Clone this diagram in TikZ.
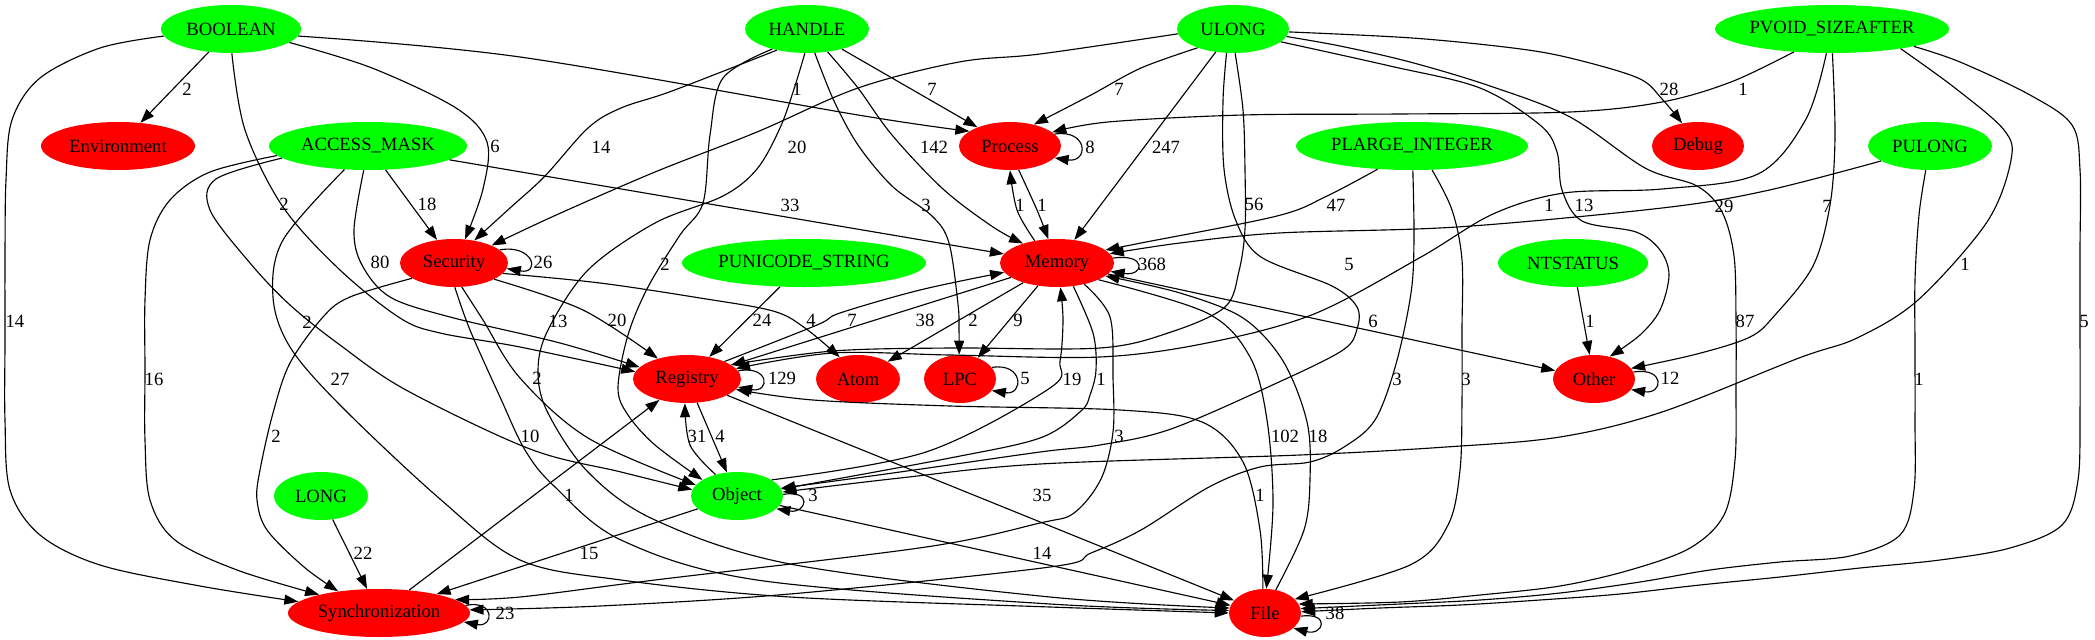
\documentclass[tikz,border=0pt]{standalone}
\usepackage{fontspec}
\setmainfont{Liberation Serif}
\usetikzlibrary{shapes.geometric,arrows.meta}
\definecolor{gvgreen}{RGB}{0,255,0}
\definecolor{gvred}{RGB}{255,0,0}
\begin{document}
\begin{tikzpicture}[x=0.75pt,y=-0.75pt,
  nd/.style={ellipse, draw=none, inner sep=0pt, minimum height=36pt, minimum width=#1*1.5pt, font=\rmfamily\fontsize{14pt}{16pt}\selectfont},
  gn/.style={nd=#1, fill=gvgreen},
  rd/.style={nd=#1, fill=gvred},
  edg/.style={line width=0.85pt, -{Triangle[length=10.5pt,width=7.5pt]}},
  lbl/.style={inner sep=0pt, font=\rmfamily\fontsize{14pt}{16pt}\selectfont},
  sm/.style={smooth, tension=0.55}]
\fill[white] (0,0) rectangle (2095,639);
\useasboundingbox (0,0) rectangle (2095,639);
% nodes
\node[gn=70] (BOOLEAN) at (231,29) {BOOLEAN};
\node[gn=62] (HANDLE) at (807,29) {HANDLE};
\node[gn=56] (ULONG) at (1233,29) {ULONG};
\node[gn=117] (PVOID) at (1832,29) {PVOID\_SIZEAFTER};
\node[rd=77] (Environment) at (118,146) {Environment};
\node[gn=99] (AM) at (368,146) {ACCESS\_MASK};
\node[rd=51] (Process) at (1010,146) {Process};
\node[gn=116] (PLARGE) at (1412,146) {PLARGE\_INTEGER};
\node[rd=46] (Debug) at (1698,146) {Debug};
\node[gn=62] (PULONG) at (1930,146) {PULONG};
\node[rd=54] (Security) at (454,263) {Security};
\node[gn=122] (PUNICODE) at (804,263) {PUNICODE\_STRING};
\node[rd=57] (Memory) at (1057,263) {Memory};
\node[gn=75] (NTSTATUS) at (1573,263) {NTSTATUS};
\node[rd=54] (Registry) at (687,379) {Registry};
\node[rd=42] (Atom) at (858,379) {Atom};
\node[rd=36] (LPC) at (960,379) {LPC};
\node[rd=41] (Other) at (1594,379) {Other};
\node[gn=47] (LONG) at (321,496) {LONG};
\node[gn=46] (Object) at (737,496) {Object};
\node[rd=91] (Sync) at (379,613) {Synchronization};
\node[rd=36] (File) at (1265,613) {File};
% BOOLEAN
\draw[edg] (BOOLEAN) -- (Environment);
\draw[edg] plot[sm] coordinates {(BOOLEAN.-6) (520,57) (858,115) (Process.160)};
\draw[edg] plot[sm] coordinates {(BOOLEAN.-13) (372,68) (456,108) (487,142) (483,189) (Security.65)};
\draw[edg] plot[sm] coordinates {(BOOLEAN.-88) (245,130) (283,207) (340,270) (400,318) (440,333) (520,347) (Registry.172)};
\draw[edg] plot[sm] coordinates {(BOOLEAN.186) (100,48) (40,78) (12,120) (6,180) (5,260) (5,340) (5,420) (10,490) (40,535) (100,565) (200,586) (Sync.172)};
% HANDLE
\draw[edg] (HANDLE) -- (Process);
\draw[edg] plot[sm] coordinates {(HANDLE.215) (672,91) (621,108) (588,128) (545,176) (510,208) (Security.48)};
\draw[edg] plot[sm] coordinates {(HANDLE.-48) (858,88) (892,135) (943,189) (993,227) (Memory.150)};
\draw[edg] plot[sm] coordinates {(HANDLE.-72) (834,101) (858,145) (892,186) (932,216) (949,243) (958,304) (959,330) (LPC.92)};
\draw[edg] plot[sm] coordinates {(HANDLE.210) (723,78) (710,135) (703,203) (680,235) (648,287) (628,335) (618,388) (628,415) (655,445) (Object.155)};
\draw[edg] plot[sm] coordinates {(HANDLE.-95) (794,89) (780,128) (757,169) (723,196) (655,223) (588,270) (548,330) (538,370) (547,411) (588,472) (655,520) (790,564) (1050,597) (File.172)};
% ULONG
\draw[edg] plot[sm] coordinates {(ULONG.208) (1141,68) (1091,95) (Process.42)};
\draw[edg] plot[sm] coordinates {(ULONG.-3) (1412,38) (1513,48) (1570,58) (1638,78) (1662,99) (Debug.125)};
\draw[edg] plot[sm] coordinates {(ULONG.185) (1040,54) (959,62) (858,88) (757,132) (655,172) (554,216) (Security.25)};
\draw[edg] (ULONG) -- (Memory);
\draw[edg] plot[sm] coordinates {(ULONG.-85) (1243,110) (1245,170) (1245,229) (1239,271) (1225,307) (1171,332) (1100,348) (950,348) (833,351) (Registry.18)};
\draw[edg] plot[sm] coordinates {(ULONG.-105) (1223,101) (1224,169) (1236,221) (1261,257) (1332,286) (1357,307) (1357,329) (1343,350) (1279,382) (1171,429) (1100,445) (1040,452) (900,472) (Object.10)};
\draw[edg] plot[sm] coordinates {(ULONG.-15) (1390,66) (1480,88) (1540,125) (1557,152) (1562,190) (1582,221) (1636,232) (1660,250) (1669,275) (1660,310) (1640,335) (Other.55)};
\draw[edg] plot[sm] coordinates {(ULONG.-8) (1340,46) (1410,62) (1490,86) (1570,117) (1645,168) (1697,186) (1722,212) (1734,256) (1736,320) (1736,390) (1735,460) (1724,515) (1690,548) (1630,570) (1560,586) (1480,595) (1400,602) (File.15)};
% PVOID_SIZEAFTER
\draw[edg] plot[sm] coordinates {(PVOID.211) (1731,82) (1662,102) (1570,112) (1400,114) (1243,115) (1108,122) (Process.18)};
\draw[edg] plot[sm] coordinates {(PVOID.-103) (1806,119) (1758,174) (1662,189) (1564,193) (1493,214) (1421,257) (1314,314) (1207,343) (1100,357) (950,355) (833,353) (Registry.12)};
\draw[edg] plot[sm] coordinates {(PVOID.-89) (1835,137) (1830,205) (1813,266) (1775,315) (1750,337) (1697,354) (Other.16)};
\draw[edg] plot[sm] coordinates {(PVOID.-16) (1955,88) (2004,130) (2011,160) (1987,222) (1918,300) (1857,338) (1799,358) (1662,412) (1560,437) (1446,447) (1300,455) (1040,464) (900,478) (Object.5)};
\draw[edg] plot[sm] coordinates {(PVOID.-12) (1960,62) (2030,95) (2072,125) (2080,170) (2080,250) (2080,330) (2080,410) (2078,480) (2062,525) (2010,548) (1940,560) (1860,568) (1780,577) (1700,585) (1620,594) (1540,600) (1460,605) (1380,608) (File.2)};
% PULONG
\draw[edg] plot[sm] coordinates {(PULONG.197) (1765,191) (1662,208) (1457,227) (1279,233) (1180,243) (Memory.10)};
\draw[edg] plot[sm] coordinates {(PULONG.-100) (1919,215) (1915,280) (1915,350) (1915,420) (1914,490) (1900,535) (1850,556) (1780,562) (1710,570) (1640,582) (1560,593) (1480,600) (1400,604) (File.7)};
% PLARGE_INTEGER
\draw[edg] plot[sm] coordinates {(PLARGE.214) (1327,196) (1277,216) (1141,243) (Memory.15)};
\draw[edg] plot[sm] coordinates {(PLARGE.-88) (1414,239) (1411,293) (1396,364) (1375,420) (1344,447) (1310,462) (1260,467) (1209,487) (1141,530) (1091,553) (1050,567) (790,594) (600,606) (Sync.2)};
\draw[edg] plot[sm] coordinates {(PLARGE.-50) (1452,210) (1462,260) (1462,330) (1462,400) (1460,470) (1448,525) (1410,565) (File.25)};
% single straight ones
\draw[edg] (NTSTATUS) -- (Other);
\draw[edg] (PUNICODE) -- (Registry);
\draw[edg] (LONG) -- (Sync);
% ACCESS_MASK
\draw[edg] (AM) -- (Security);
\draw[edg] (AM) -- (Memory);
\draw[edg] plot[sm] coordinates {(AM.-100) (354,230) (362,265) (390,297) (450,317) (560,343) (Registry.166)};
\draw[edg] plot[sm] coordinates {(AM.188) (216,179) (210,210) (250,263) (290,305) (340,345) (406,390) (530,449) (621,472) (Object.172)};
\draw[edg] plot[sm] coordinates {(AM.186) (210,172) (170,200) (150,240) (145,300) (145,370) (145,440) (150,500) (175,540) (237,570) (Sync.163)};
\draw[edg] plot[sm] coordinates {(AM.-135) (283,240) (273,297) (290,347) (340,405) (440,499) (520,560) (621,580) (790,597) (1050,607) (File.180)};
% Security
\draw[edg] (Security.16) .. controls +(34,-6) and +(34,6) .. (Security.-6);
\draw[edg] plot[sm] coordinates {(Security.-22) (583,310) (Registry.145)};
\draw[edg] plot[sm] coordinates {(Security.-12) (600,283) (700,298) (773,311) (805,328) (Atom.130)};
\draw[edg] plot[sm] coordinates {(Security.-72) (483,320) (520,378) (588,438) (Object.165)};
\draw[edg] plot[sm] coordinates {(Security.200) (350,297) (323,317) (290,363) (273,413) (260,470) (257,500) (267,530) (304,567) (Sync.152)};
\draw[edg] plot[sm] coordinates {(Security.-88) (470,330) (500,397) (525,450) (554,486) (621,540) (757,580) (1050,604) (File.176)};
% Process
\draw[edg] (Process.15) .. controls +(34,-5) and +(34,5) .. (Process.-15);
\draw[edg] plot[sm] coordinates {(Memory.135) (1017,210) (Process.-90)};
\draw[edg] plot[sm] coordinates {(Process.-70) (1037,210) (Memory.110)};
% Memory
\draw[edg] (Memory.5) .. controls +(34,-5) and +(34,5) .. (Memory.-9);
\draw[edg] (Memory) -- (Registry);
\draw[edg] plot[sm] coordinates {(Registry.25) (817,325) (840,313) (920,290) (Memory.190)};
\draw[edg] (Memory) -- (Atom);
\draw[edg] (Memory) -- (LPC);
\draw[edg] (Memory) -- (Other);
\draw[edg] plot[sm] coordinates {(Memory.-55) (1093,333) (1096,370) (1090,395) (1081,411) (1040,438) (950,458) (Object.9)};
\draw[edg] plot[sm] coordinates {(Object.25) (926,452) (1050,388) (1060,361) (1063,320) (Memory.-82)};
\draw[edg] plot[sm] coordinates {(Memory.-38) (1110,317) (1113,378) (1113,432) (1101,479) (1074,513) (1040,523) (926,547) (655,580) (520,597) (Sync.10)};
\draw[edg] plot[sm] coordinates {(Memory.-22) (1207,313) (1250,357) (1267,420) (1273,504) (File.87)};
\draw[edg] plot[sm] coordinates {(File.65) (1304,530) (1310,479) (1307,422) (1283,361) (1243,318) (1180,293) (Memory.-15)};
% Registry
\draw[edg] (Registry.9) .. controls +(32,-6) and +(32,6) .. (Registry.-9);
\draw[edg] (Registry) -- (Object);
\draw[edg] plot[sm] coordinates {(Object.135) (690,445) (Registry.-95)};
\draw[edg] (Registry) -- (File);
\draw[edg] plot[sm] coordinates {(File.95) (1260,530) (1243,462) (1202,422) (1120,410) (950,406) (813,400) (Registry.-12)};
% LPC, Other
\draw[edg] (LPC.20) .. controls +(32,-5) and +(32,5) .. (LPC.-20);
\draw[edg] (Other.10) .. controls +(32,-5) and +(32,5) .. (Other.-16);
% Object, Sync, File
\draw[edg] (Object.2) .. controls +(30,-5) and +(30,5) .. (Object.-18);
\draw[edg] (Object) -- (Sync);
\draw[edg] (Object) -- (File);
\draw[edg] (Sync) -- (Registry);
\draw[edg] (Sync.5) .. controls +(30,-6) and +(30,6) .. (Sync.-6);
\draw[edg] (File.-5) .. controls +(30,-4) and +(30,8) .. (File.-28);
% labels
\node[lbl] (l1) at (187,89) {2};
\node[lbl] (l2) at (797,89) {1};
\node[lbl] (l3) at (495,146) {6};
\node[lbl] (l4) at (284,204) {2};
\node[lbl] (l5) at (15,321) {14};
\node[lbl] (l6) at (932,89) {7};
\node[lbl] (l7) at (601,147) {14};
\node[lbl] (l8) at (934,147) {142};
\node[lbl] (l9) at (926,205) {3};
\node[lbl] (l10) at (665,264) {2};
\node[lbl] (l11) at (558,321) {13};
\node[lbl] (l12) at (1119,89) {7};
\node[lbl] (l13) at (1669,89) {28};
\node[lbl] (l14) at (797,147) {20};
\node[lbl] (l15) at (1166,147) {247};
\node[lbl] (l16) at (1254,204) {56};
\node[lbl] (l17) at (1349,264) {5};
\node[lbl] (l18) at (1584,205) {13};
\node[lbl] (l19) at (1745,321) {87};
\node[lbl] (l20) at (1743,89) {1};
\node[lbl] (l21) at (1549,205) {1};
\node[lbl] (l22) at (1827,206) {7};
\node[lbl] (l23) at (1965,264) {1};
\node[lbl] (l24) at (2084,321) {5};
\node[lbl] (l25) at (1724,206) {29};
\node[lbl] (l26) at (1919,379) {1};
\node[lbl] (l27) at (1336,205) {47};
\node[lbl] (l28) at (1397,379) {3};
\node[lbl] (l29) at (1466,379) {3};
\node[lbl] (l30) at (1590,321) {1};
\node[lbl] (l31) at (427,204) {18};
\node[lbl] (l32) at (790,205) {33};
\node[lbl] (l33) at (380,262) {80};
\node[lbl] (l34) at (307,322) {2};
\node[lbl] (l35) at (154,379) {16};
\node[lbl] (l36) at (340,379) {27};
\node[lbl] (l37) at (543,262) {26};
\node[lbl] (l38) at (617,320) {20};
\node[lbl] (l39) at (811,320) {4};
\node[lbl] (l40) at (537,378) {2};
\node[lbl] (l41) at (276,436) {2};
\node[lbl] (l42) at (530,436) {10};
\node[lbl] (l43) at (762,320) {24};
\node[lbl] (l44) at (1090,147) {8};
\node[lbl] (l45) at (1020,205) {1};
\node[lbl] (l46) at (1042,205) {1};
\node[lbl] (l47) at (1152,264) {368};
\node[lbl] (l48) at (852,320) {7};
\node[lbl] (l49) at (925,320) {38};
\node[lbl] (l50) at (973,320) {2};
\node[lbl] (l51) at (1018,320) {9};
\node[lbl] (l52) at (1373,321) {6};
\node[lbl] (l53) at (1072,379) {19};
\node[lbl] (l54) at (1101,379) {1};
\node[lbl] (l55) at (1119,436) {3};
\node[lbl] (l56) at (1285,436) {102};
\node[lbl] (l57) at (1318,436) {18};
\node[lbl] (l58) at (782,378) {129};
\node[lbl] (l59) at (697,436) {31};
\node[lbl] (l60) at (720,436) {4};
\node[lbl] (l61) at (1042,495) {35};
\node[lbl] (l62) at (1260,495) {1};
\node[lbl] (l63) at (1025,378) {5};
\node[lbl] (l64) at (1670,378) {12};
\node[lbl] (l65) at (813,495) {3};
\node[lbl] (l66) at (569,495) {1};
\node[lbl] (l67) at (589,553) {15};
\node[lbl] (l68) at (1042,553) {14};
\node[lbl] (l69) at (363,553) {22};
\node[lbl] (l70) at (505,613) {23};
\node[lbl] (l71) at (1335,613) {38};
\end{tikzpicture}
\end{document}
